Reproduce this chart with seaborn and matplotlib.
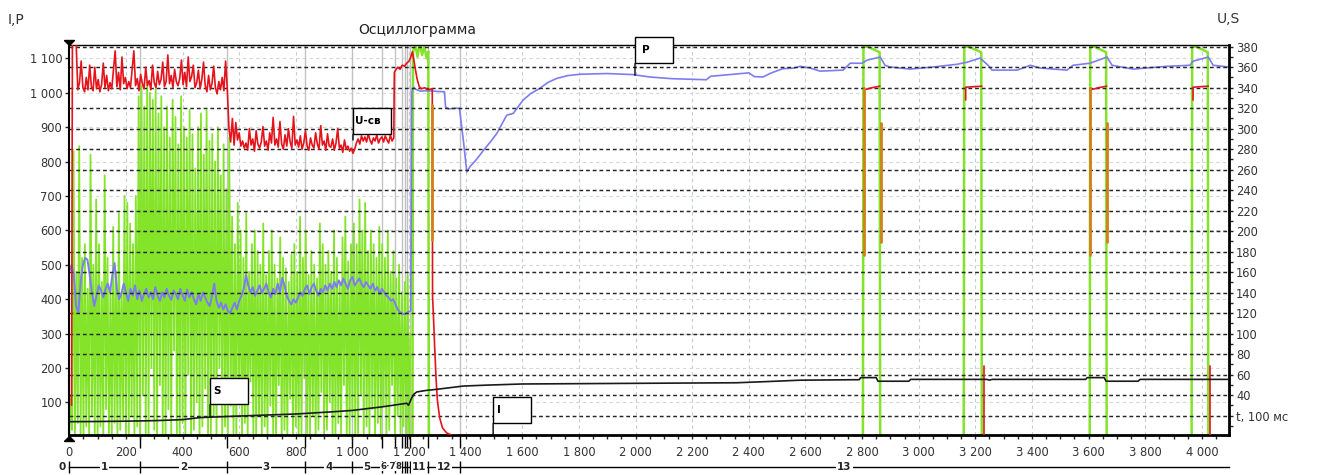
import numpy as np
import pandas as pd
import matplotlib
matplotlib.use("Agg")
import matplotlib.pyplot as plt
import matplotlib.transforms as mtransforms
from matplotlib.patches import Rectangle
from matplotlib.text import Text
from matplotlib.offsetbox import DrawingArea, AnnotationBbox
from matplotlib.ticker import MultipleLocator
import seaborn as sns

# ======================= DATA (t in units of 100 ms) =======================
# Current I (green, left axis) during flashing: troughs at t=0,10,..,1200 and peaks at t=5,15,..,1205
i_flash_low = [0, 20, 0, 40, 10, 0, 30, 0, 60, 10,
               0, 30, 0, 80, 10, 0, 40, 0, 20, 50,
               0, 10, 60, 0, 30, 0, 120, 10, 0, 200,
               20, 0, 150, 10, 0, 80, 0, 250, 10, 0,
               40, 0, 180, 0, 20, 100, 0, 30, 140, 0,
               10, 60, 0, 200, 0, 30, 0, 90, 10, 0,
               120, 0, 40, 0, 160, 10, 0, 60, 0, 30,
               0, 90, 10, 0, 150, 0, 20, 0, 110, 0,
               30, 0, 0, 170, 10, 0, 60, 0, 20, 130,
               0, 20, 100, 0, 0, 40, 10, 150, 0, 0,
               60, 0, 10, 120, 0, 30, 0, 80, 0, 40,
               0, 90, 0, 20, 150, 0, 60, 10, 30, 0,
               0]
i_flash_high = [120, 830, 480, 845, 520, 560, 430, 820, 500, 690,
                560, 450, 760, 520, 430, 610, 480, 650, 420, 700,
                680, 620, 560, 700, 990, 1020, 960, 1030, 1000, 980,
                1010, 940, 990, 900, 960, 870, 980, 930, 850, 990,
                900, 870, 950, 880, 780, 900, 940, 820, 950, 860,
                880, 800, 900, 760, 850, 720, 870, 640, 560, 680,
                600, 520, 650, 480, 560, 600, 540, 500, 620, 470,
                540, 600, 500, 460, 580, 520, 490, 450, 530, 560,
                480, 640, 520, 600, 470, 540, 500, 460, 620, 560,
                500, 540, 480, 600, 520, 450, 580, 640, 510, 560,
                620, 560, 690, 600, 680, 540, 600, 560, 520, 610,
                560, 520, 600, 480, 540, 460, 500, 420, 450, 470,
                300]
# Current I afterwards (upset and four heat-treatment pulses)
i_t = [1208, 1212, 1214, 1222, 1230, 1238, 1246, 1254, 1262, 1268,
       1270, 2803, 2805, 2820, 2862, 2864, 3159, 3161, 3176, 3221,
       3223, 3604, 3606, 3621, 3662, 3664, 3964, 3966, 3981, 4021,
       4023, 4096]
i_v = [0, 0, 1120, 1140, 1105, 1145, 1110, 1135, 1100, 1120,
       0, 0, 1134, 1134, 1118, 0, 0, 1134, 1134, 1118,
       0, 0, 1134, 1134, 1118, 0, 0, 1134, 1134, 1118,
       0, 0]

# Pressure P (blue, left axis): flashing stage sampled every 8 units from t=0
p_flash = [480, 500, 470, 380, 360, 450, 500, 520, 515, 470,
           420, 380, 410, 440, 425, 405, 430, 445, 420, 470,
           505, 430, 400, 415, 445, 420, 395, 430, 410, 440,
           400, 425, 395, 415, 430, 405, 420, 400, 435, 410,
           395, 420, 405, 430, 410, 398, 425, 415, 400, 430,
           412, 395, 428, 405, 420, 400, 385, 415, 395, 420,
           405, 390, 380, 410, 445, 395, 375, 390, 370, 385,
           365, 360, 375, 390, 370, 395, 410, 430, 470, 440,
           420, 435, 410, 425, 440, 418, 430, 445, 420, 405,
           430, 415, 445, 420, 462, 440, 410, 395, 385, 400,
           390, 405, 420, 410, 430, 440, 415, 435, 445, 425,
           410, 430, 420, 440, 425, 445, 430, 450, 435, 455,
           440, 460, 445, 430, 455, 465, 440, 450, 460, 445,
           435, 450, 440, 430, 445, 425, 435, 415, 430, 420,
           410, 405, 395, 400, 385, 370, 362, 358, 356, 360,
           365]
p_t = [1206, 1210, 1216, 1224, 1240, 1270, 1300, 1325, 1329, 1340,
       1360, 1378, 1392, 1404, 1415, 1440, 1463, 1490, 1510, 1545,
       1568, 1603, 1630, 1662, 1690, 1722, 1760, 1804, 1900, 1990,
       2050, 2130, 2250, 2265, 2400, 2420, 2450, 2480, 2520, 2560,
       2581, 2617, 2652, 2733, 2758, 2800, 2818, 2864, 2881, 2899,
       2970, 3051, 3136, 3171, 3217, 3245, 3259, 3348, 3394, 3429,
       3524, 3545, 3605, 3665, 3683, 3757, 3877, 3958, 3969, 4023,
       4040, 4096]
p_v = [365, 1005, 1016, 1010, 1005, 1006, 1004, 1003, 958, 953,
       955, 955, 860, 770, 785, 808, 833, 860, 882, 935,
       940, 979, 998, 1013, 1030, 1042, 1050, 1054, 1056, 1053,
       1046, 1041, 1038, 1048, 1058, 1047, 1046, 1058, 1070, 1072,
       1077, 1072, 1063, 1066, 1086, 1086, 1095, 1104, 1080, 1075,
       1069, 1075, 1083, 1089, 1101, 1080, 1066, 1066, 1080, 1072,
       1066, 1080, 1086, 1104, 1080, 1069, 1077, 1080, 1092, 1104,
       1080, 1075]

# Welding voltage U-св (red, right axis)
u_start_t = [8, 11, 24]
u_start_v = [30, 385, 385]
u_flash1 = [338, 345, 366, 340, 336, 350, 338, 362, 341, 337,   # t = 30, 36, ... 558
            360, 339, 348, 336, 343, 364, 340, 352, 337, 345,
            339, 357, 376, 341, 355, 338, 370, 344, 350, 339,
            346, 340, 358, 376, 342, 349, 337, 353, 344, 339,
            360, 342, 347, 338, 362, 345, 340, 356, 343, 348,
            365, 341, 346, 372, 344, 352, 340, 358, 346, 342,
            349, 367, 343, 355, 341, 370, 346, 351, 362, 340,
            345, 357, 339, 348, 365, 342, 336, 352, 338, 344,
            361, 340, 334, 346, 338, 350, 337, 366, 339]
u_flash2 = [300, 287, 310, 284, 306, 289, 296, 283, 288, 281,   # t = 564, 570, ... 1146
            286, 279, 300, 284, 290, 278, 298, 285, 281, 287,
            302, 283, 288, 279, 296, 286, 311, 284, 290, 282,
            307, 285, 280, 294, 283, 300, 287, 281, 312, 284,
            289, 282, 293, 280, 286, 298, 283, 279, 291, 284,
            281, 296, 285, 280, 303, 284, 288, 279, 295, 283,
            282, 290, 279, 286, 300, 281, 284, 277, 289, 280,
            283, 278, 281, 276, 280, 286, 290, 285, 293, 288,
            292, 287, 295, 289, 285, 291, 288, 294, 286, 290,
            292, 287, 293, 289, 286, 294, 288, 291]
u_t = [1148, 1152, 1160, 1168, 1176, 1184, 1192, 1200, 1206, 1212,
       1220, 1228, 1236, 1244, 1255, 1266, 1282, 1283, 1286, 1290,
       1295, 1300, 1308, 1318, 1333, 1350, np.nan,
       2808, 2835, 2863, np.nan,
       3166, 3166, 3195, 3223, np.nan, 3229, 3229, np.nan,
       3608, 3635, 3664, np.nan,
       3969, 3969, 3995, 4023, np.nan, 4029, 4029]
u_v = [355, 357, 360, 358, 362, 361, 364, 366, 370, 375,
       362, 349, 341, 339, 340, 338, 339, 136, 118, 90,
       58, 35, 18, 8, 3, 1, np.nan,
       338, 340, 341.5, np.nan,
       328, 340.5, 341, 341.5, np.nan, 68, 0, np.nan,
       338, 340, 341.5, np.nan,
       328, 340.5, 341, 341.5, np.nan, 68, 0]

# Second voltage trace (orange, right axis)
o_t = [1281, 1281, np.nan, 2807, 2807, np.nan, 2866, 2866, np.nan,
       3606, 3606, np.nan, 3665, 3665]
o_v = [323, 191, np.nan, 340, 177, np.nan, 306, 189, np.nan,
       340, 177, np.nan, 306, 189]

# Displacement S (black, right axis)
s_t = [0, 100, 200, 300, 400, 462, 550, 697, 800, 933,
       1000, 1108, 1192, 1198, 1209, 1218, 1227, 1260, 1298, 1392,
       1486, 1600, 2357, 2451, 2581, 2790, 2795, 2850, 2856, 2965,
       2972, 3240, 3250, 3260, 3590, 3595, 3655, 3662, 3775, 3782,
       4096]
s_v = [14, 14.2, 14.5, 15, 16, 18, 19, 20.5, 21.5, 23.7,
       25, 28.6, 32, 30, 37, 41, 43, 44.5, 45.6, 48.8,
       49.8, 50.8, 52, 53, 54.5, 55, 57, 57, 53.5, 53.5,
       55.3, 55.3, 54.6, 55.3, 55.3, 57, 57, 53.5, 53.5, 55.3,
       55.3]

# Process phases (boundaries in t, labels)
phase_bounds = [0, 250, 557, 833, 1000, 1103, 1150, 1175, 1184, 1193, 1204, 1268, 1380, 4096]
phase_labels = ['1', '2', '3', '4', '5', '6·7', '8', '', '', '', '11', '12', '13']

x_ticks = list(range(0, 4001, 200))
left_ticks = list(range(100, 1101, 100))
right_ticks = list(range(20, 381, 20))

# ======================= STYLE =======================
sns.set_style("white")
plt.rcParams['font.family'] = ['DejaVu Sans']
plt.rcParams['axes.unicode_minus'] = False

C_GREEN = '#84e42a'
C_BLUE = '#7d7df0'
C_RED = '#e5141c'
C_ORANGE = '#d2801a'
C_BLACK = '#1a1a1a'

W, H = 1323, 475
fig = plt.figure(figsize=(W / 100, H / 100), dpi=100)
X0, X1, YT, YB = 69.3, 1229.0, 45.0, 435.0
ax = fig.add_axes([X0 / W, (H - YB) / H, (X1 - X0) / W, (YB - YT) / H])
ax2 = ax.twinx()


def draw(axis, t, v, color, lw, z=2):
    df = pd.DataFrame({'t': np.asarray(t, float), 'v': np.asarray(v, float)})
    df['seg'] = df['v'].isna().cumsum()
    df = df.dropna()
    sns.lineplot(data=df, x='t', y='v', units='seg', estimator=None, sort=False,
                 color=color, lw=lw, ax=axis, legend=False, zorder=z)


# phase boundary lines
for b in phase_bounds[1:-1]:
    ax.axvline(b, color='#c2c2c2', lw=1.0, zorder=1)

# green current
t_low = np.arange(0, 1201, 10)
g_t = np.column_stack([t_low, t_low + 5]).ravel()
g_v = np.column_stack([i_flash_low, i_flash_high]).ravel()
draw(ax, g_t, g_v, C_GREEN, 1.3, z=2)
draw(ax, i_t, i_v, C_GREEN, 1.8, z=2)

# blue pressure
draw(ax, np.arange(0, 1201, 8), p_flash, C_BLUE, 1.4, z=3)
draw(ax, p_t, p_v, C_BLUE, 1.2, z=3)

# red voltage
ut = u_start_t + list(np.arange(30, 559, 6)) + list(np.arange(564, 1147, 6)) + u_t
uv = u_start_v + u_flash1 + u_flash2 + u_v
draw(ax2, ut, uv, C_RED, 1.2, z=3)
draw(ax2, o_t, o_v, C_ORANGE, 2.0, z=4)
draw(ax2, s_t, s_v, C_BLACK, 1.2, z=4)

for a in (ax, ax2):
    a.set_xlabel('')
    a.set_ylabel('')

# ticks
fmt = lambda v: f"{int(v):,}".replace(",", " ")
ax.set_xticks(x_ticks)
ax.set_xticklabels([fmt(v) for v in x_ticks])
ax.xaxis.set_minor_locator(MultipleLocator(50))
ax.tick_params(axis='x', which='both', direction='out', length=3, width=1, pad=5,
               labelsize=8.3, labelcolor='#333333', bottom=True)
ax.set_yticks(left_ticks)
ax.set_yticklabels([fmt(v) for v in left_ticks])
ax.tick_params(axis='y', direction='out', length=3, width=1, pad=2,
               labelsize=8.3, labelcolor='#333333', left=True)
ax2.set_yticks(right_ticks)
ax2.set_yticklabels(['t, 100 мс'] + [str(v) for v in right_ticks[1:]])
ax2.yaxis.set_minor_locator(MultipleLocator(10))
ax2.tick_params(axis='y', which='both', direction='out', length=3, width=1, pad=2,
                labelsize=8.3, labelcolor='#333333', right=True)

# grids
ax.xaxis.grid(True, color='#c6ccd6', ls=(0, (3, 3)), lw=0.8)
ax.yaxis.grid(True, color='#d6d6d6', ls=(0, (3, 3)), lw=0.8)
ax2.yaxis.grid(True, color='#262626', ls=(0, (2.6, 2.0)), lw=1.05)
ax2.xaxis.grid(False)
ax.set_axisbelow(True)
ax2.set_axisbelow(True)

for s in ax.spines.values():
    s.set_visible(False)
ax2.spines['bottom'].set_linewidth(2.0)
ax2.spines['right'].set_linewidth(2.0)
ax2.spines['left'].set_linewidth(1.5)
ax2.spines['top'].set_linewidth(1.0)
for s in ax2.spines.values():
    s.set_color('black')

# long boundary ticks under the time axis
sec_long = ax.secondary_xaxis(0)
sec_long.set_xticks(phase_bounds[1:-1])
sec_long.tick_params(axis='x', length=9, width=1, direction='out', labelbottom=False, color='black')
sec_long.spines['bottom'].set_visible(False)

# phase axis
phase_y = -(466.7 - YB) / (YB - YT)
sec_ph = ax.secondary_xaxis(phase_y)
sec_ph.set_xticks(phase_bounds[:-1])
sec_ph.tick_params(axis='x', length=8, width=1, direction='inout', labelbottom=False, color='black')
sec_ph.spines['bottom'].set_linewidth(1.0)
sec_ph.spines['bottom'].set_color('black')
blend = mtransforms.blended_transform_factory(ax.transData, ax.transAxes)
for a, b, lab in zip(phase_bounds[:-1], phase_bounds[1:], phase_labels):
    if lab:
        narrow = (b - a) < 60
        ax.text((a + b) / 2, phase_y, lab, transform=blend, ha='center', va='center',
                fontsize=6.3 if narrow else 7.5, fontweight='bold', clip_on=False, zorder=5,
                bbox=dict(fc='white', ec='none', pad=0.2 if narrow else 0.6))
ax.annotate('0', xy=(0, phase_y), xycoords=blend, xytext=(-2.5, 0), textcoords='offset points',
            ha='right', va='center', fontsize=7.5, fontweight='bold', annotation_clip=False)

# start markers
tri_down = [(-1, 0), (1, 0), (0, -1), (-1, 0)]
tri_up = [(-1, 0), (1, 0), (0, 1), (-1, 0)]
ax2.plot([0], [1], marker=tri_down, ms=7.2, color='black', clip_on=False,
         transform=mtransforms.offset_copy(ax2.transAxes, fig=fig, x=0, y=3.6, units='points'))
ax2.plot([0], [0], marker=tri_up, ms=7.2, color='black', clip_on=False,
         transform=mtransforms.offset_copy(ax2.transAxes, fig=fig, x=0, y=-4.5, units='points'))


# tag boxes
def tag(text, xy, trans, dy_px, tx=2.5):
    w_pt, h_pt = 38 * 0.72, 26 * 0.72
    da = DrawingArea(w_pt, h_pt, 0, 0)
    da.add_artist(Rectangle((0, 0), w_pt, h_pt, fc='white', ec='black', lw=1.0))
    da.add_artist(Text(tx, h_pt / 2, text, ha='left', va='center', fontsize=7.5,
                       fontweight='bold', color='black'))
    ab = AnnotationBbox(da, xy, xycoords=trans, xybox=(0, dy_px * 0.72), boxcoords='offset points',
                        box_alignment=(0, 0), frameon=False, pad=0, annotation_clip=False,
                        arrowprops=dict(arrowstyle='-', color='black', lw=1.0, shrinkA=0,
                                        shrinkB=0, relpos=(0, 0)))
    ab.set_zorder(10)
    ax2.add_artist(ab)


tag('U-св', (1002, 289), ax2.transData, 6, 1.5)
tag('S', (497, 18.5), ax2.transData, 13)
tag('P', (1998, 1051), ax.transData, 12, 5)
tag('I', (1497, 5), ax.transData, 12)

# titles
fig.text(8 / W, 1 - 20 / H, 'I,P', fontsize=10, ha='left', va='center', color='#333333')
fig.text(1217 / W, 1 - 19 / H, 'U,S', fontsize=10, ha='left', va='center', color='#333333')
fig.text(417 / W, 1 - 30 / H, 'Осциллограмма', fontsize=10, ha='center', va='center', color='#222222')

ax.set_xlim(0, 4096)
ax.set_ylim(5, 1139)
ax2.set_ylim(1, 381.7)

fig.savefig('out.png', dpi=100)
